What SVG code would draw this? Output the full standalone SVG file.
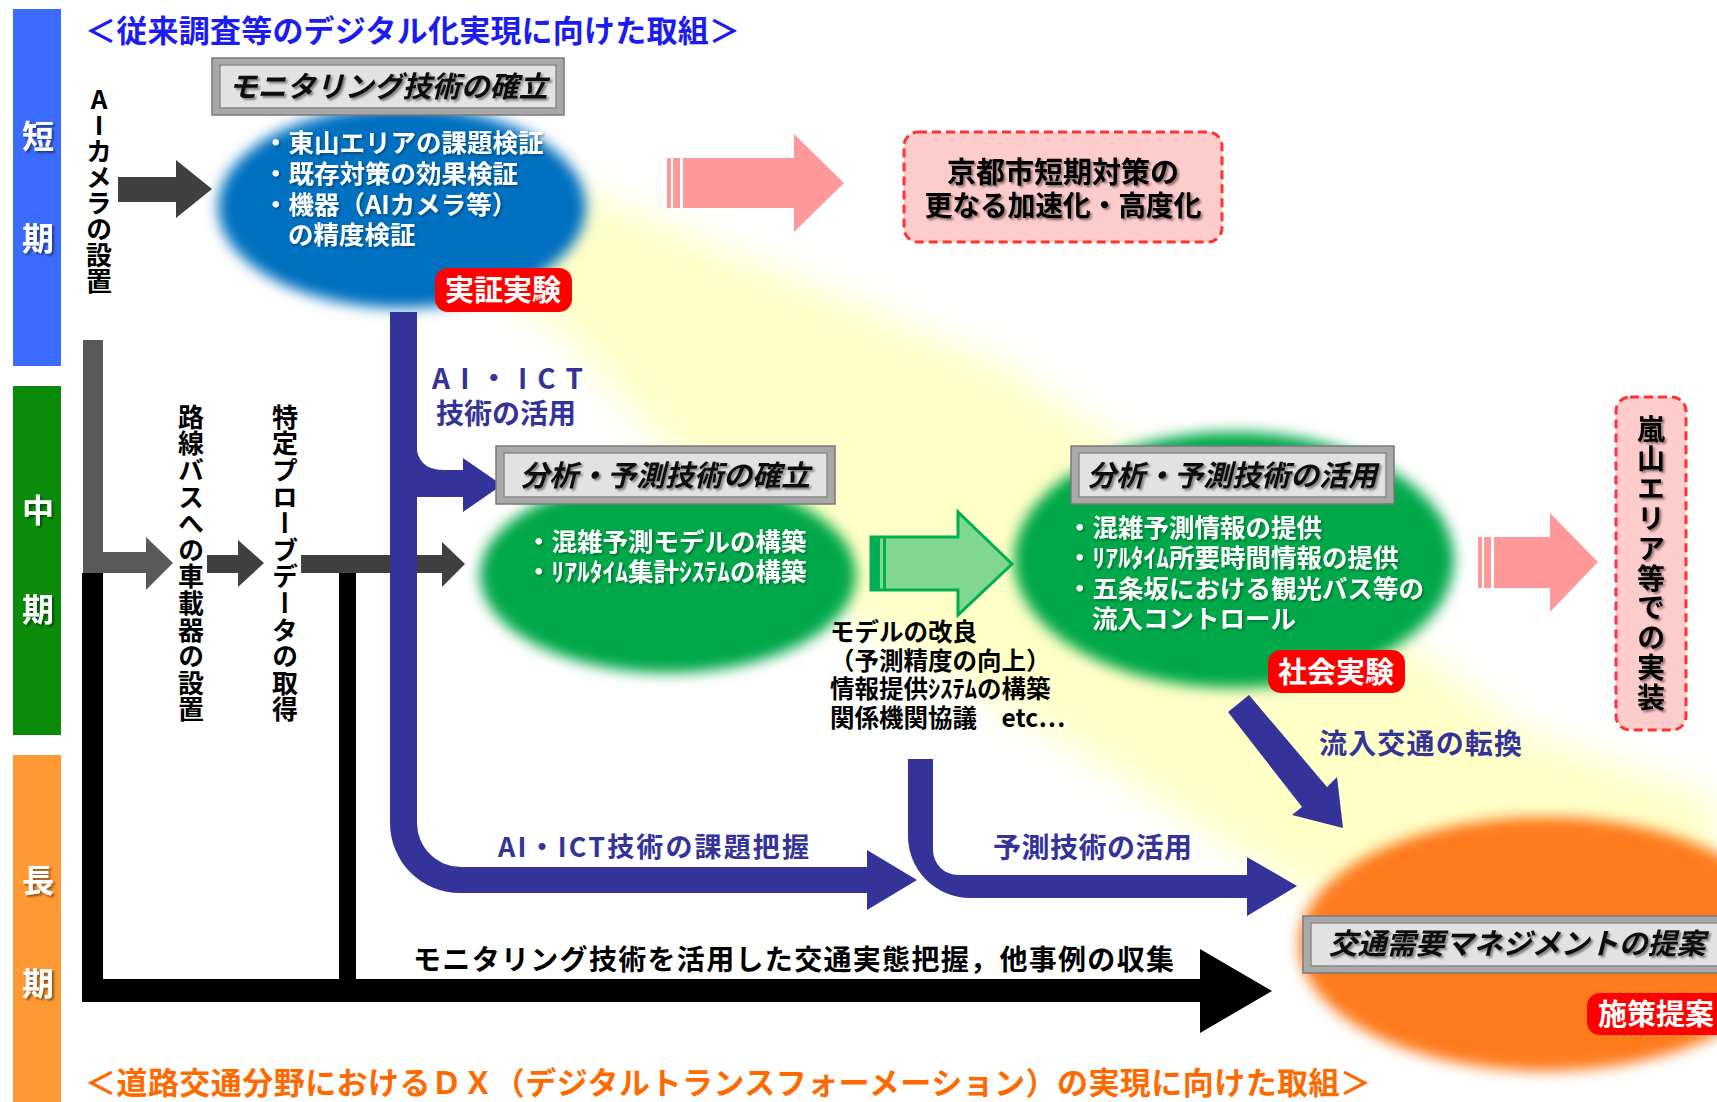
<svg xmlns="http://www.w3.org/2000/svg" width="1717" height="1102" viewBox="0 0 1717 1102">
<defs>
<style>
text{font-family:"Noto Sans CJK JP","Noto Sans CJK SC",sans-serif;font-weight:700}
.w{fill:#fff}
.k{fill:#000}
.nv{fill:#333399}
.vt{writing-mode:vertical-rl;text-orientation:upright;font-size:26px;fill:#000}
.bt{font-size:29px;font-style:italic;fill:#111;text-anchor:middle}
.tag{fill:#ff0000}
.tagt{font-size:29px;fill:#fff;text-anchor:middle}
.el{font-size:25.5px;fill:#fff}
.dash{fill:#ffcccc;stroke:#ff3333;stroke-width:3;stroke-dasharray:9 5}
.pink{fill:#ff9999}
.bevo{fill:#a8a8a8;stroke:#7a7a7a;stroke-width:1.5}
.bevi{fill:#e2e2e2;stroke:#8a8a8a;stroke-width:1.5}
.per{font-size:32px;fill:#fff;text-anchor:middle}
</style>
<filter id="blur" x="-20%" y="-20%" width="140%" height="140%"><feGaussianBlur stdDeviation="7"/></filter>
<filter id="blurY" x="-20%" y="-20%" width="140%" height="140%"><feGaussianBlur stdDeviation="18"/></filter>
<filter id="sh" x="-10%" y="-10%" width="130%" height="140%"><feDropShadow dx="2" dy="2" stdDeviation="1" flood-color="#000" flood-opacity="0.45"/></filter>
<filter id="shw" x="-10%" y="-10%" width="130%" height="140%"><feDropShadow dx="1.5" dy="1.5" stdDeviation="1" flood-color="#000" flood-opacity="0.35"/></filter>
</defs>
<rect width="1717" height="1102" fill="#fff"/>

<!-- yellow beam -->
<polygon points="560,180 700,240 1000,365 1300,560 1520,730 1717,800 1717,900 1300,890 1080,750 850,620 700,480 560,330 470,270" fill="#ffffc8" filter="url(#blurY)"/>

<!-- period bars -->
<g id="period-short"><rect x="13" y="9" width="48" height="357" fill="#3b6cff"/>
<text class="per" x="38" y="148" filter="url(#sh)">短</text><text class="per" x="38" y="250" filter="url(#sh)">期</text></g>
<g id="period-mid"><rect x="13" y="386" width="48" height="349" fill="#0a8c0a"/>
<text class="per" x="38" y="522" filter="url(#sh)">中</text><text class="per" x="38" y="621" filter="url(#sh)">期</text></g>
<g id="period-long"><rect x="13" y="755" width="48" height="347" fill="#ff9933"/>
<text class="per" x="38" y="892" filter="url(#sh)">長</text><text class="per" x="38" y="995" filter="url(#sh)">期</text></g>

<!-- titles -->
<text x="85" y="42" font-size="31" fill="#1c1cf0" textLength="655">＜従来調査等のデジタル化実現に向けた取組＞</text>
<text x="85" y="1094" font-size="31" fill="#ff6a00" textLength="1286">＜道路交通分野におけるＤＸ（デジタルトランスフォーメーション）の実現に向けた取組＞</text>

<!-- ellipses -->
<g id="ellipse-blue"><ellipse cx="402" cy="207" rx="184" ry="101" fill="#0070c0" filter="url(#blur)"/></g>
<g id="ellipse-green1"><ellipse cx="668" cy="575" rx="188" ry="98" fill="#00a849" filter="url(#blur)"/></g>
<g id="ellipse-green2"><ellipse cx="1234" cy="560" rx="220" ry="128" fill="#00a849" filter="url(#blur)"/></g>
<g id="ellipse-orange"><ellipse cx="1545" cy="944" rx="246" ry="127" fill="#ff7a1a" filter="url(#blur)"/></g>

<!-- connectors -->
<g id="connectors">
<polygon points="118,177 176,177 176,160 212,189 176,218 176,202 118,202" fill="#404040"/>
<path d="M83,340 H103 V552 H146 V537 L173,563 L146,590 V573 H83 Z" fill="#595959"/>
<polygon points="207,555 238,555 238,540 264,563 238,587 238,573 207,573" fill="#404040"/>
<polygon points="301,555 442,555 442,542 465,564 442,587 442,573 301,573" fill="#404040"/>
<path d="M82,573 H103 V979 H339 V573 H356 V979 H1200 V949 L1272,991 L1200,1033 V1002 H82 Z" fill="#000"/>
<path d="M390,312 H417 V823 A44,44 0 0 0 461,867 H867 V850 L917,880 L867,910 V893 H460 A70,70 0 0 1 390,823 Z" fill="#333399"/>
<path d="M416,443 Q417,470 443,470 H463 V458 L502,485 L463,512 V497 H416 Z" fill="#333399"/>
<path d="M908,759 H933 V850 A25,25 0 0 0 958,875 H1247 V857 L1297,886 L1247,916 V898 H970 A62,62 0 0 1 908,836 Z" fill="#333399"/>
<polygon points="1249,695 1327,787 1337,777 1343,828 1292,815 1302,807 1228,712" fill="#333399"/>
<g class="pink"><rect x="667" y="158" width="4" height="50"/><rect x="673" y="158" width="7" height="50"/><polygon points="683,158 794,158 794,134 844,183 794,232 794,208 683,208"/></g>
<g class="pink"><rect x="1478" y="537" width="4" height="51"/><rect x="1484" y="537" width="7" height="51"/><polygon points="1494,537 1550,537 1550,513 1598,562 1550,612 1550,588 1494,588"/></g>
<g><path d="M871,537 H958 V512 L1012,564 L958,615 V590 H871 Z" fill="#80d890" stroke="#00b050" stroke-width="3" stroke-linejoin="miter"/><rect x="871" y="537" width="9" height="53" fill="#00b050"/><rect x="883" y="537" width="3" height="53" fill="#00b050"/></g>
</g>

<!-- vertical labels -->
<text class="vt" x="99" y="86">AIカメラの設置</text>
<text class="vt" x="191" y="404" letter-spacing="0.6">路線バスへの車載器の設置</text>
<text class="vt" x="285" y="404" letter-spacing="0.6">特定プローブデータの取得</text>

<!-- connector labels -->
<text class="nv" x="432" y="389" font-size="28" textLength="151">AI・ICT</text>
<text class="nv" x="436" y="424" font-size="28">技術の活用</text>
<text class="nv" x="498" y="857" font-size="27" textLength="311">AI・ICT技術の課題把握</text>
<text class="nv" x="993" y="858" font-size="28" textLength="199">予測技術の活用</text>
<text class="nv" x="1319" y="754" font-size="28" textLength="203">流入交通の転換</text>
<text class="k" x="413" y="970" font-size="28" textLength="761">モニタリング技術を活用した交通実態把握，他事例の収集</text>
<g font-size="24.5" class="k">
<text x="830" y="641">モデルの改良</text>
<text x="830" y="670">（予測精度の向上）</text>
<text x="830" y="698">情報提供ｼｽﾃﾑの構築</text>
<text x="830" y="727">関係機関協議　etc…</text>
</g>

<!-- ellipse texts -->
<g id="text-blue" filter="url(#shw)">
<text class="el" x="263" y="152">・東山エリアの課題検証</text>
<text class="el" x="263" y="183">・既存対策の効果検証</text>
<text class="el" x="263" y="214">・機器（AIカメラ等）</text>
<text class="el" x="288" y="244">の精度検証</text>
</g>
<g id="text-green1" filter="url(#shw)">
<text class="el" x="526" y="551">・混雑予測モデルの構築</text>
<text class="el" x="526" y="581">・ﾘｱﾙﾀｲﾑ集計ｼｽﾃﾑの構築</text>
</g>
<g id="text-green2" filter="url(#shw)">
<text class="el" x="1067" y="537">・混雑予測情報の提供</text>
<text class="el" x="1067" y="567">・ﾘｱﾙﾀｲﾑ所要時間情報の提供</text>
<text class="el" x="1067" y="598">・五条坂における観光バス等の</text>
<text class="el" x="1092" y="628">流入コントロール</text>
</g>

<!-- title boxes -->
<g id="box-monitoring">
<rect class="bevo" x="212" y="58" width="352" height="57"/>
<rect class="bevi" x="220" y="65" width="336" height="43"/>
<text class="bt" x="388" y="97" filter="url(#sh)">モニタリング技術の確立</text>
</g>
<g id="box-analysis">
<rect class="bevo" x="496" y="446" width="339" height="58"/>
<rect class="bevi" x="504" y="453" width="323" height="44"/>
<text class="bt" x="665" y="486" filter="url(#sh)">分析・予測技術の確立</text>
</g>
<g id="box-utilize">
<rect class="bevo" x="1071" y="446" width="323" height="58"/>
<rect class="bevi" x="1079" y="453" width="307" height="44"/>
<text class="bt" x="1232" y="486" filter="url(#sh)">分析・予測技術の活用</text>
</g>
<g id="box-tdm">
<rect class="bevo" x="1303" y="916" width="430" height="57"/>
<rect class="bevi" x="1311" y="923" width="414" height="43"/>
<text class="bt" x="1517" y="954" filter="url(#sh)">交通需要マネジメントの提案</text>
</g>

<!-- tags -->
<g id="tag-jissho"><rect class="tag" x="435" y="268" width="137" height="44" rx="13"/><text class="tagt" x="503" y="301">実証実験</text></g>
<g id="tag-shakai"><rect class="tag" x="1268" y="650" width="137" height="43" rx="13"/><text class="tagt" x="1336" y="683">社会実験</text></g>
<g id="tag-shisaku"><rect class="tag" x="1587" y="993" width="145" height="42" rx="13"/><text class="tagt" x="1656" y="1025">施策提案</text></g>

<!-- dashed boxes -->
<g id="box-kyoto">
<rect class="dash" x="904" y="132" width="318" height="110" rx="14"/>
<text x="1063" y="183" font-size="29" text-anchor="middle" class="k" filter="url(#sh)">京都市短期対策の</text>
<text x="1063" y="216" font-size="28" text-anchor="middle" class="k" filter="url(#sh)" textLength="277">更なる加速化・高度化</text>
</g>
<g id="box-arashiyama">
<rect class="dash" x="1616" y="397" width="70" height="333" rx="14"/>
<text class="vt" x="1651" y="415" font-size="28" letter-spacing="1.8" style="font-size:28px" filter="url(#sh)">嵐山エリア等での実装</text>
</g>
</svg>
